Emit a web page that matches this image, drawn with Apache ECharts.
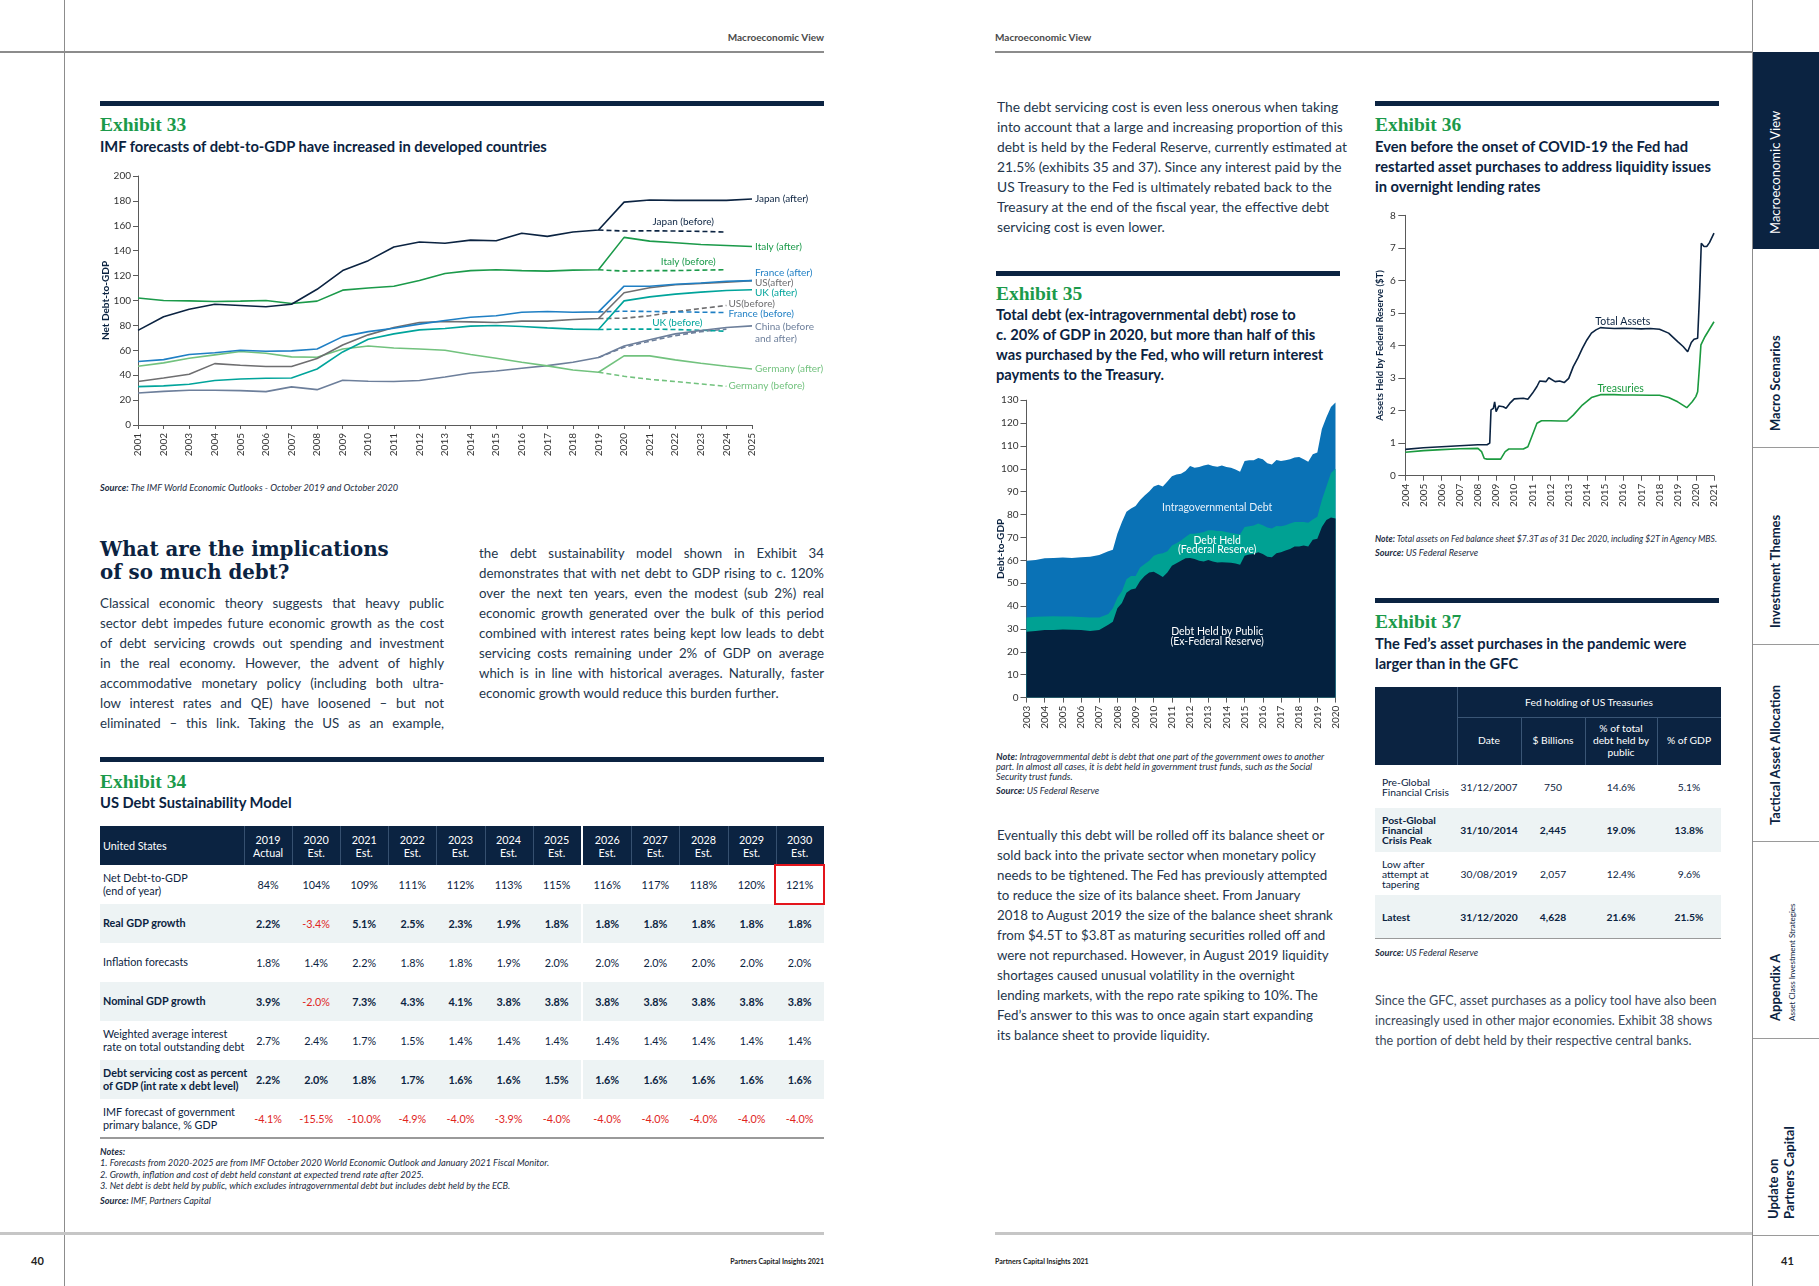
<!DOCTYPE html>
<html>
<head>
<meta charset="utf-8">
<title>Macroeconomic View</title>
<script src="https://cdn.jsdelivr.net/npm/echarts@6.0.0/dist/echarts.min.js"></script>
<style>
html,body{margin:0;padding:0}
body{width:1819px;height:1286px;position:relative;overflow:hidden;background:#fff;font-family:Lato,"Noto Sans",sans-serif;color:#1c2c42}
.a{position:absolute;white-space:nowrap}
.exh{font-family:"Liberation Serif",serif;font-weight:700;color:#1b9a4a;font-size:19.5px;line-height:22px}
.ttl{font-weight:700;color:#0b2341;font-size:14.7px;line-height:20px}
.body{font-size:13.3px;line-height:20px;color:#24364c}
.just{text-align:justify;text-align-last:justify}
.note{font-style:italic;font-size:9.2px;line-height:11px;color:#1c2c42}
.note b{font-weight:700}
.cell{position:absolute;display:flex;align-items:center;justify-content:center;text-align:center;white-space:nowrap}
.lcell{position:absolute;display:flex;align-items:center;white-space:nowrap}
.head{font-family:"DejaVu Serif",serif;font-weight:700;font-size:19.8px;line-height:23px;color:#0b2341}
</style>
</head>
<body>
<div id="page"></div>
<div id="c33" style="position:absolute;left:95px;top:160px;width:740px;height:310px"></div>
<div id="c35" style="position:absolute;left:985px;top:385px;width:360px;height:345px"></div>
<div id="c36" style="position:absolute;left:1365px;top:200px;width:360px;height:320px"></div>
<script>
// ---------------- Exhibit 33 data ----------------
const years33 = ['2001','2002','2003','2004','2005','2006','2007','2008','2009','2010','2011','2012','2013','2014','2015','2016','2017','2018','2019','2020','2021','2022','2023','2024','2025'];
const beforeYears33 = ['2019','2020','2021','2022','2023','2024'];
const japanAfter   = [76,87,93,97,96,95,97,109,124,132,143,147,146,148.5,148,154,151.5,155,156.6,179,180.7,180.4,180.4,180.4,181.5];
const italyAfter   = [102,100,99.7,99.2,99.5,100,97.6,99.5,108.3,110,111.5,116,121.7,124,124.7,124,123.6,124.4,124.7,150.7,147.7,146.4,145,144.2,143.4];
const franceAfter  = [51,52.5,56.6,58,60,59.2,59.5,61,71,75,77.7,81,84,86.6,87.7,90.6,91.2,90.6,90.9,111.5,111.5,113,114,115.5,116];
const usAfter      = [35,37.8,40.7,49.3,48,47,47,53.4,64.3,72.4,78.3,82.3,83.1,82.8,82.3,83.4,83.4,84.7,85.5,106.2,110.2,112.6,113.7,114.7,116];
const ukAfter      = [30.8,31.4,32.7,35.7,37,37.5,37.8,45,58.7,68.9,73.2,76.4,77.5,79.4,79.9,79.1,78,77,76.7,99.7,102.9,105.1,106.7,108,108.6];
const chinaAfter   = [25.7,27,27.9,27.9,27.6,26.8,30.6,28.4,35.9,35.1,34.9,35.7,38.6,41.8,43.4,45.6,47.7,50.4,54.2,63.5,68.4,73.2,75.9,78.3,79.6];
const germanyAfter = [47.2,49.9,53.6,56.3,59,57.6,54.7,54.4,61.1,63.5,61.9,61.1,60,56.6,53.6,50.4,47.5,44.2,42.4,55.5,55.5,52.3,49.6,47.2,45];
const japanBefore   = [156.6,155.8,156,155.8,155.5,155];
const italyBefore   = [124.7,123.6,124,124,124.4,124.7];
const franceBefore  = [90.9,91.4,91.2,90.9,90.6,90.3];
const usBefore      = [85.5,85.8,87.7,91,93.6,96];
const ukBefore      = [76.7,77,77,76.7,76.1,75.3];
const chinaBefore   = [54.2,62.5,67.3,71.8,75,77];
const germanyBefore = [42.4,39.1,36.7,34.9,33,31.1];

// ---------------- Exhibit 35 data (Debt-to-GDP, %) ----------------
const t35 = [2003,2003.5,2004,2004.5,2005,2005.5,2006,2006.5,2007,2007.5,2007.75,
  2008,2008.25,2008.5,2008.75,2009,2009.25,2009.5,2009.75,2010,2010.25,2010.5,2010.75,
  2011,2011.25,2011.5,2011.75,2012,2012.25,2012.5,2012.75,2013,2013.25,2013.5,2013.75,
  2014,2014.25,2014.5,2014.75,2015,2015.25,2015.5,2015.75,2016,2016.25,2016.5,2016.75,
  2017,2017.25,2017.5,2017.75,2018,2018.25,2018.5,2018.75,2019,2019.25,2019.5,2019.75,2020];
const publicDebt35 = [28.8,29.1,29.5,29.6,29.8,29.7,29.5,29.1,29.5,31.8,33.2,
  39.1,41.4,45.8,47.3,47.7,51.0,53.2,54.7,55.0,53.9,52.7,54.7,
  57.6,58.7,59.8,60.9,61.0,60.6,59.8,59.5,60.1,59.5,59.1,59.2,
  59.1,58.9,58.6,58.1,62.0,62.5,62.8,63.5,62.8,61.6,61.3,63.1,
  63.5,64.3,65.0,66.0,66.0,66.5,66.0,69.0,69.4,74.6,77.6,78.7,78.3];
const fedDebt35 = [6.2,6.2,6.0,6.0,5.7,5.7,5.7,5.9,5.5,4.7,5.9,
  4.5,5.1,5.9,5.9,5.5,5.9,5.2,5.1,7.0,8.9,10.4,9.3,
  8.9,8.8,8.9,9.3,10.6,11.0,12.1,12.9,13.0,13.6,13.7,13.6,
  13.3,13.0,13.0,13.3,12.6,12.4,12.4,12.6,12.5,12.7,12.6,11.9,
  11.4,11.0,11.1,10.8,10.8,10.3,10.4,8.9,9.6,11.8,14.7,19.5,21.7];
const intragovDebt35 = [24.8,24.8,25.4,25.4,25.7,25.6,26.1,26.6,27.3,27.5,25.5,
  28.0,30.3,29.5,29.5,30.6,29.5,29.9,30.3,30.3,30.2,29.2,30.5,
  30.3,30.0,29.1,28.8,29.6,28.9,28.9,29.1,28.8,28.1,28.1,28.7,
  28.4,28.6,28.1,27.3,28.8,28.8,28.5,28.6,28.9,28.1,28.0,28.9,
  28.5,28.4,28.1,28.1,28.4,27.4,26.7,28.5,28.1,31.0,30.3,28.8,29.0];

// ---------------- Exhibit 36 data ($T) ----------------
const t36Total = [2004,2005,2006,2007,2008,2008.5,2008.65,2008.72,2008.85,2008.92,2009,2009.15,2009.4,2009.55,2009.75,
  2010,2010.5,2010.75,2011,2011.25,2011.4,2011.75,2011.9,2012,2012.25,2012.5,2012.75,2013,2013.25,2013.5,2013.75,
  2014,2014.25,2014.5,2014.75,2015,2015.5,2016,2016.5,2017,2017.5,2018,2018.5,2019,2019.3,2019.55,2019.62,2019.75,2019.9,
  2020,2020.1,2020.2,2020.3,2020.45,2020.6,2020.75,2021];
const totalAssets36 = [0.81,0.86,0.89,0.92,0.95,0.95,1.00,2.02,2.07,2.27,1.97,2.14,2.12,2.07,2.22,
  2.36,2.38,2.35,2.53,2.74,2.91,2.89,3.01,2.99,2.89,2.91,2.86,2.99,3.35,3.61,3.91,
  4.17,4.38,4.48,4.55,4.54,4.52,4.53,4.52,4.51,4.52,4.50,4.38,4.12,3.97,3.81,3.86,4.09,4.19,
  4.22,4.22,5.50,7.14,7.04,7.04,7.16,7.45];
const t36Treas = [2004,2005,2006,2007,2008,2008.2,2008.35,2008.5,2009,2009.25,2009.5,2009.7,2010,2010.5,2010.75,
  2011,2011.25,2011.5,2012,2012.5,2012.9,2013.25,2013.75,2014.25,2014.75,2015.5,2016,2016.5,2017.5,2018,2018.5,
  2019,2019.5,2019.6,2019.8,2020,2020.1,2020.2,2020.28,2020.5,2020.75,2021];
const treasuries36 = [0.72,0.77,0.80,0.83,0.84,0.74,0.53,0.51,0.51,0.51,0.74,0.82,0.82,0.82,0.89,
  1.25,1.61,1.69,1.69,1.68,1.68,1.86,2.17,2.40,2.49,2.49,2.48,2.48,2.47,2.47,2.40,
  2.27,2.09,2.12,2.27,2.43,2.58,3.35,4.02,4.27,4.50,4.73];

// ---------------- Exhibit 34 table ----------------
const cols34 = [['2019','Actual'],['2020','Est.'],['2021','Est.'],['2022','Est.'],['2023','Est.'],['2024','Est.'],['2025','Est.'],['2026','Est.'],['2027','Est.'],['2028','Est.'],['2029','Est.'],['2030','Est.']];
const netDebt34   = ['84%','104%','109%','111%','112%','113%','115%','116%','117%','118%','120%','121%'];
const realGdp34   = ['2.2%','-3.4%','5.1%','2.5%','2.3%','1.9%','1.8%','1.8%','1.8%','1.8%','1.8%','1.8%'];
const inflation34 = ['1.8%','1.4%','2.2%','1.8%','1.8%','1.9%','2.0%','2.0%','2.0%','2.0%','2.0%','2.0%'];
const nominal34   = ['3.9%','-2.0%','7.3%','4.3%','4.1%','3.8%','3.8%','3.8%','3.8%','3.8%','3.8%','3.8%'];
const interest34  = ['2.7%','2.4%','1.7%','1.5%','1.4%','1.4%','1.4%','1.4%','1.4%','1.4%','1.4%','1.4%'];
const servicing34 = ['2.2%','2.0%','1.8%','1.7%','1.6%','1.6%','1.5%','1.6%','1.6%','1.6%','1.6%','1.6%'];
const primary34   = ['-4.1%','-15.5%','-10.0%','-4.9%','-4.0%','-3.9%','-4.0%','-4.0%','-4.0%','-4.0%','-4.0%','-4.0%'];
const rowLabels34 = ['Net Debt-to-GDP<br>(end of year)','Real GDP growth','Inflation forecasts','Nominal GDP growth','Weighted average interest<br>rate on total outstanding debt','Debt servicing cost as percent<br>of GDP (int rate x debt level)','IMF forecast of government<br>primary balance, % GDP'];

// ---------------- Exhibit 37 table ----------------
const rowLabels37 = ['Pre-Global<br>Financial Crisis','Post-Global<br>Financial<br>Crisis Peak','Low after<br>attempt at<br>tapering','Latest'];
const dates37    = ['31/12/2007','31/10/2014','30/08/2019','31/12/2020'];
const billions37 = ['750','2,445','2,057','4,628'];
const pctDebt37  = ['14.6%','19.0%','12.4%','21.6%'];
const pctGdp37   = ['5.1%','13.8%','9.6%','21.5%'];

// ================= page furniture =================
const NAVY = '#0b2341', GREEN = '#1b9a4a', SHADE = '#edf3f4';
const H = [];
function box(x,y,w,h,bg,extra){ H.push(`<div style="position:absolute;left:${x}px;top:${y}px;width:${w}px;height:${h}px;background:${bg};${extra||''}"></div>`); }
function txt(x,y,html,cls,style){ H.push(`<div class="a ${cls||''}" style="left:${x}px;top:${y}px;${style||''}">${html}</div>`); }
function lines(x,y,arr,cls,style){ arr.forEach((l,i)=>txt(x,y+i*20,l,cls,style)); }
function rot(x,yb,html,style){ H.push(`<div class="a" style="left:${x}px;top:${yb}px;transform:rotate(-90deg);transform-origin:0 0;${style||''}">${html}</div>`); }

// frame lines
box(0,51,824,1.5,'#8c8c8c'); box(995,51,758,1.5,'#8c8c8c');
box(63.5,0,1,1286,'#8c8c8c'); box(1752,0,1,1286,'#8c8c8c');
box(0,1232,824,3,'#c6c6c6'); box(995,1232,757,3,'#c6c6c6');
// running headers / footers
txt(0,31,'Macroeconomic View','', 'width:824px;text-align:right;font-weight:700;font-size:10px;line-height:12px;color:#4a4a4a');
txt(995,31,'Macroeconomic View','', 'font-weight:700;font-size:10px;line-height:12px;color:#4a4a4a');
txt(0,1256,'Partners Capital Insights 2021','', 'width:824px;text-align:right;font-weight:700;font-size:7px;line-height:10px;color:#222');
txt(995,1256,'Partners Capital Insights 2021','', 'font-weight:700;font-size:7px;line-height:10px;color:#222');
txt(31,1254,'40','', 'font-weight:700;font-size:11px;line-height:14px;color:#222');
txt(1781,1254,'41','', 'font-weight:700;font-size:11px;line-height:14px;color:#222');

// sidebar
box(1753,52,66,197,NAVY);
[446.5,644,841,1038,1235].forEach(y=>box(1753,y,66,1,'#9a9a9a'));
const sideStyle = 'font-size:13px;line-height:16px;font-weight:700;color:'+NAVY;
rot(1767,234,'Macroeconomic View','font-size:13px;line-height:16px;font-weight:400;color:#fff');
rot(1767,431,'Macro Scenarios',sideStyle);
rot(1767,628,'Investment Themes',sideStyle);
rot(1767,825,'Tactical Asset Allocation',sideStyle);
rot(1767,1021,'Appendix A',sideStyle);
rot(1786,1021,'Asset Class Investment Strategies','font-size:8px;line-height:12px;color:'+NAVY);
rot(1765,1219,'Update on<br>Partners Capital',sideStyle);

// ---------- Exhibit 33 header ----------
box(100,101,724,5,NAVY);
txt(100,114,'Exhibit 33','exh');
txt(100,136,'IMF forecasts of debt-to-GDP have increased in developed countries','ttl');
txt(100,482,'<b>Source:</b> The IMF World Economic Outlooks - October 2019 and October 2020','note');

// ---------- Left page text ----------
txt(100,538,'What are the implications','head');
txt(100,561,'of so much debt?','head');
lines(100,593.3,['Classical economic theory suggests that heavy public','sector debt impedes future economic growth as the cost','of debt servicing crowds out spending and investment','in the real economy. However, the advent of highly','accommodative monetary policy (including both ultra-','low interest rates and QE) have loosened \u2013 but not','eliminated \u2013 this link. Taking the US as an example,'],'body just','width:344px');
lines(479,543.3,['the debt sustainability model shown in Exhibit 34','demonstrates that with net debt to GDP rising to c. 120%','over the next ten years, even the modest (sub 2%) real','economic growth generated over the bulk of this period','combined with interest rates being kept low leads to debt','servicing costs remaining under 2% of GDP on average','which is in line with historical averages. Naturally, faster'],'body just','width:345px');
txt(479,543.3+7*20,'economic growth would reduce this burden further.','body');

// ---------- Exhibit 34 ----------
box(100,757,724,4.5,NAVY);
txt(100,770.7,'Exhibit 34','exh');
txt(100,791.7,'US Debt Sustainability Model','ttl');
(function(){
  const L=100, TOP=826, LW=144, CW=48.1, GAP=2.5, HH=39, RH=39, FS=10.8;
  const cx = i => L+LW+i*CW+(i>=7?GAP:0);
  const endA = cx(6)+CW, startB = cx(7), R = cx(11)+CW;
  box(L,TOP,endA-L,HH,NAVY); box(startB,TOP,R-startB,HH,NAVY);
  for(let i=0;i<12;i++){ if(i!==7) box(cx(i),TOP,1,HH,'#36506f'); }
  H.push(`<div class="lcell" style="left:${L+3}px;top:${TOP}px;width:${LW}px;height:${HH}px;color:#fff;font-size:${FS}px">United States</div>`);
  cols34.forEach((c,i)=>H.push(`<div class="cell" style="left:${cx(i)}px;top:${TOP}px;width:${CW}px;height:${HH}px;color:#fff;font-size:${FS}px;line-height:13px">${c[0]}<br>${c[1]}</div>`));
  const rows=[netDebt34,realGdp34,inflation34,nominal34,interest34,servicing34,primary34];
  const bold=[false,true,false,true,false,true,false];
  rows.forEach((vals,r)=>{
    const y=TOP+HH+r*RH;
    if(r%2===1){ box(L,y,endA-L,RH,SHADE); box(startB,y,R-startB,RH,SHADE); }
    const fw = bold[r]?700:400;
    H.push(`<div class="lcell" style="left:${L+3}px;top:${y}px;width:${LW}px;height:${RH}px;color:${NAVY};font-size:${FS}px;line-height:12.5px;font-weight:${fw}">${rowLabels34[r]}</div>`);
    vals.forEach((v,i)=>{
      const neg = v.charAt(0)==='-';
      H.push(`<div class="cell" style="left:${cx(i)}px;top:${y}px;width:${CW}px;height:${RH}px;font-size:${FS}px;font-weight:${neg?400:fw};color:${neg?'#e0261e':NAVY}">${v}</div>`);
    });
  });
  box(L,TOP+HH+7*RH-1,R-L,1.5,'#9a9a9a');
  H.push(`<div style="position:absolute;left:${cx(11)-1.5}px;top:${TOP+HH-1.5}px;width:${CW+3}px;height:${RH+2}px;border:2.5px solid #e3151c;box-sizing:border-box"></div>`);
})();
txt(100,1146,'<b>Notes:</b>','note');
txt(100,1157,'1. Forecasts from 2020-2025 are from IMF October 2020 World Economic Outlook and January 2021 Fiscal Monitor.','note');
txt(100,1168.5,'2. Growth, inflation and cost of debt held constant at expected trend rate after 2025.','note');
txt(100,1180.3,'3. Net debt is debt held by public, which excludes intragovernmental debt but includes debt held by the ECB.','note');
txt(100,1194.5,'<b>Source:</b> IMF, Partners Capital','note');

// ---------- Right page text ----------
lines(997,96.7,['The debt servicing cost is even less onerous when taking','into account that a large and increasing proportion of this','debt is held by the Federal Reserve, currently estimated at','21.5% (exhibits 35 and 37). Since any interest paid by the','US Treasury to the Fed is ultimately rebated back to the','Treasury at the end of the fiscal year, the effective debt','servicing cost is even lower.'],'body','font-size:13.8px');
lines(997,825,['Eventually this debt will be rolled off its balance sheet or','sold back into the private sector when monetary policy','needs to be tightened. The Fed has previously attempted','to reduce the size of its balance sheet. From January','2018 to August 2019 the size of the balance sheet shrank','from $4.5T to $3.8T as maturing securities rolled off and','were not repurchased. However, in August 2019 liquidity','shortages caused unusual volatility in the overnight','lending markets, with the repo rate spiking to 10%. The','Fed\u2019s answer to this was to once again start expanding','its balance sheet to provide liquidity.'],'body');

// ---------- Exhibit 35 header ----------
box(996,271,344,4.5,NAVY);
txt(996,283.3,'Exhibit 35','exh');
H.push(`<div class="a ttl" style="left:996px;top:305px;line-height:19.9px">Total debt (ex-intragovernmental debt) rose to<br>c. 20% of GDP in 2020, but more than half of this<br>was purchased by the Fed, who will return interest<br>payments to the Treasury.</div>`);
txt(996,751.8,'<b>Note:</b> Intragovernmental debt is debt that one part of the government owes to another<br>part. In almost all cases, it is debt held in government trust funds, such as the Social<br>Security trust funds.','note','line-height:10.1px');
txt(996,785,'<b>Source:</b> US Federal Reserve','note');

// ---------- Exhibit 36 header ----------
box(1375,101,344,5,NAVY);
txt(1375,114,'Exhibit 36','exh');
H.push(`<div class="a ttl" style="left:1375px;top:135.7px">Even before the onset of COVID-19 the Fed had<br>restarted asset purchases to address liquidity issues<br>in overnight lending rates</div>`);
txt(1375,533.5,'<b>Note:</b> Total assets on Fed balance sheet $7.3T as of 31 Dec 2020, including $2T in Agency MBS.','note','font-size:8.6px');
txt(1375,547.2,'<b>Source:</b> US Federal Reserve','note');

// ---------- Exhibit 37 ----------
box(1375,598,344,5,NAVY);
txt(1375,611,'Exhibit 37','exh');
H.push(`<div class="a ttl" style="left:1375px;top:632.7px">The Fed\u2019s asset purchases in the pandemic were<br>larger than in the GFC</div>`);
(function(){
  const X=[1375,1457,1521,1585,1657,1721], Y=[687,717,765,808,852,895,938];
  box(X[0],Y[0],X[5]-X[0],Y[2]-Y[0],NAVY);
  box(X[1],Y[0],1,Y[2]-Y[0],'#3a5575');
  [2,3,4].forEach(i=>box(X[i],Y[1],1,Y[2]-Y[1],'#3a5575'));
  box(X[1],Y[1],X[5]-X[1],1,'#3a5575');
  H.push(`<div class="cell" style="left:${X[1]}px;top:${Y[0]}px;width:${X[5]-X[1]}px;height:${Y[1]-Y[0]}px;color:#fff;font-size:10.3px">Fed holding of US Treasuries</div>`);
  const hd=['Date','$ Billions','% of total<br>debt held by<br>public','% of GDP'];
  hd.forEach((h,i)=>H.push(`<div class="cell" style="left:${X[i+1]}px;top:${Y[1]}px;width:${X[i+2]-X[i+1]}px;height:${Y[2]-Y[1]}px;color:#fff;font-size:10.3px;line-height:11.7px">${h}</div>`));
  const cols=[dates37,billions37,pctDebt37,pctGdp37];
  rowLabels37.forEach((lab,r)=>{
    const y=Y[r+2], h=Y[r+3]-Y[r+2], b=(r%2===1);
    if(b) box(X[0],y,X[5]-X[0],h,SHADE);
    const fw=b?700:400;
    H.push(`<div class="lcell" style="left:${X[0]+7}px;top:${y}px;width:${X[1]-X[0]-7}px;height:${h}px;font-size:10.3px;line-height:10px;font-weight:${fw};color:${NAVY}">${lab}</div>`);
    cols.forEach((c,i)=>H.push(`<div class="cell" style="left:${X[i+1]}px;top:${y}px;width:${X[i+2]-X[i+1]}px;height:${h}px;font-size:10.3px;font-weight:${fw};color:${NAVY}">${c[r]}</div>`));
  });
  box(X[0],Y[6]-0.5,X[5]-X[0],1.5,'#9a9a9a');
})();
txt(1375,946.5,'<b>Source:</b> US Federal Reserve','note');
lines(1375,990.7,['Since the GFC, asset purchases as a policy tool have also been','increasingly used in other major economies. Exhibit 38 shows','the portion of debt held by their respective central banks.'],'body','font-size:12.6px;color:#3a495b');

document.getElementById('page').innerHTML = H.join('');

// ================= charts =================
const FONT = 'Lato';
function axisBase(){ return {axisLine:{show:true,lineStyle:{color:'#5a5a5a',width:1}},axisTick:{show:true,length:5,lineStyle:{color:'#5a5a5a'}},axisLabel:{fontSize:10,color:'#333',fontFamily:FONT},splitLine:{show:false},nameMoveOverlap:false}; }
function addLabels(chart, items){
  chart.setOption({graphic: items.map(it=>{
    const p = chart.convertToPixel({gridIndex:0},[it.x,it.y]);
    return {type:'text', silent:true, z:100, zlevel:0, x:p[0]+(it.dx||0), y:p[1]+(it.dy||0),
      style:{text:it.text, fill:it.color, fontSize:it.size||10, fontFamily:FONT, fontWeight:it.weight||'normal',
        textAlign:it.align||'left', align:it.align||'left', textVerticalAlign:'middle', verticalAlign:'middle', lineHeight:it.lh||12}};
  })});
}

// ---- Exhibit 33 ----
const C = {japan:'#0b2341', italy:'#1b9a4a', france:'#1f7fc4', us:'#6e6e70', uk:'#00a49b', china:'#6d7f9b', germany:'#72c27e'};
function ln(name,data,color,dashed){ return {name,type:'line',data,symbol:'none',silent:true,connectNulls:false,
  lineStyle:{color,width:1.6,type:dashed?[5,3]:'solid'},itemStyle:{color},z:dashed?2:3}; }
const bf = arr => arr.map((v,i)=>[beforeYears33[i],v]);
const c33 = echarts.init(document.getElementById('c33'));
const ax33x = axisBase(), ax33y = axisBase();
Object.assign(ax33x,{type:'category',data:years33,boundaryGap:false});
ax33x.axisTick.length=4; ax33x.axisTick.alignWithLabel=true;
ax33x.axisLabel=Object.assign(ax33x.axisLabel,{rotate:90,margin:8,interval:0});
Object.assign(ax33y,{type:'value',min:0,max:200,interval:20,name:'Net Debt-to-GDP',nameLocation:'middle',nameGap:27,nameRotate:90,
  nameTextStyle:{fontSize:10,fontWeight:'bold',color:NAVY,fontFamily:FONT}});
ax33y.axisLabel.margin=7;
c33.setOption({animation:false,textStyle:{fontFamily:FONT},
  grid:{left:43,right:83,top:16,bottom:45,containLabel:false,outerBoundsMode:'none'},
  xAxis:ax33x, yAxis:ax33y,
  series:[
    ln('China (before)',bf(chinaBefore),C.china,true),
    ln('Germany (before)',bf(germanyBefore),C.germany,true),
    ln('UK (before)',bf(ukBefore),C.uk,true),
    ln('US (before)',bf(usBefore),C.us,true),
    ln('France (before)',bf(franceBefore),C.france,true),
    ln('Italy (before)',bf(italyBefore),C.italy,true),
    ln('Japan (before)',bf(japanBefore),C.japan,true),
    ln('China',chinaAfter,C.china,false),
    ln('Germany (after)',germanyAfter,C.germany,false),
    ln('UK (after)',ukAfter,C.uk,false),
    ln('US (after)',usAfter,C.us,false),
    ln('France (after)',franceAfter,C.france,false),
    ln('Italy (after)',italyAfter,C.italy,false),
    ln('Japan (after)',japanAfter,C.japan,false)
  ]});
addLabels(c33,[
  {x:24,y:japanAfter[24],text:'Japan (after)',color:C.japan,dx:3},
  {x:24,y:italyAfter[24],text:'Italy (after)',color:C.italy,dx:3},
  {x:24,y:franceAfter[24],text:'France (after)',color:C.france,dx:3,dy:-8},
  {x:24,y:usAfter[24],text:'US(after)',color:C.us,dx:3,dy:2},
  {x:24,y:ukAfter[24],text:'UK (after)',color:C.uk,dx:3,dy:2.5},
  {x:24,y:chinaAfter[24],text:'China (before\nand after)',color:C.china,dx:3,dy:6.5},
  {x:24,y:germanyAfter[24],text:'Germany (after)',color:C.germany,dx:3},
  {x:23,y:usBefore[5],text:'US(before)',color:C.us,dx:2,dy:-1.5},
  {x:23,y:franceBefore[5],text:'France (before)',color:C.france,dx:2,dy:1},
  {x:23,y:germanyBefore[5],text:'Germany (before)',color:C.germany,dx:2},
  {x:21,y:japanBefore[3],text:'Japan (before)',color:C.japan,dx:8,dy:-9,align:'center'},
  {x:21,y:italyBefore[3],text:'Italy (before)',color:C.italy,dx:13,dy:-9,align:'center'},
  {x:21,y:ukBefore[3],text:'UK (before)',color:C.uk,dx:2,dy:-6.5,align:'center'}
]);

// ---- Exhibit 35 (layers drawn as cumulative areas, largest first) ----
const c35 = echarts.init(document.getElementById('c35'));
const ax35x = axisBase(), ax35y = axisBase();
Object.assign(ax35x,{type:'value',min:2003,max:2020,interval:1});
ax35x.axisLabel=Object.assign(ax35x.axisLabel,{rotate:90,margin:8,formatter:v=>String(v)});
Object.assign(ax35y,{type:'value',min:0,max:130,interval:10,name:'Debt-to-GDP',nameLocation:'middle',nameGap:21,nameRotate:90,
  nameTextStyle:{fontSize:10,fontWeight:'bold',color:NAVY,fontFamily:FONT}});
ax35y.axisTick.length=6; ax35y.axisLabel.margin=8;
const cumPublic = publicDebt35.map((v,i)=>[t35[i], v]);
const cumFed    = publicDebt35.map((v,i)=>[t35[i], +(v+fedDebt35[i]).toFixed(2)]);
const cumTotal  = publicDebt35.map((v,i)=>[t35[i], +(v+fedDebt35[i]+intragovDebt35[i]).toFixed(2)]);
const ar = (name,data,color,z)=>({name,type:'line',symbol:'none',silent:true,data,z,
  lineStyle:{width:0,color},itemStyle:{color},areaStyle:{color,opacity:1,origin:'start'}});
c35.setOption({animation:false,textStyle:{fontFamily:FONT},
  grid:{left:41.5,right:9.5,top:15.2,bottom:32.4,containLabel:false,outerBoundsMode:'none'},
  xAxis:ax35x,yAxis:ax35y,
  series:[ar('Intragovernmental Debt',cumTotal,'#0a72b6',1),
          ar('Debt Held (Federal Reserve)',cumFed,'#00a193',2),
          ar('Debt Held by Public (Ex-Federal Reserve)',cumPublic,'#04213f',3)]});
addLabels(c35,[
  {x:2013.49,y:83.0,text:'Intragovernmental Debt',color:'#e8f1fa',align:'center',size:10.5},
  {x:2013.49,y:66.7,text:'Debt Held\n(Federal Reserve)',color:'#ffffff',align:'center',size:10.5,lh:9.5},
  {x:2013.49,y:26.6,text:'Debt Held by Public\n(Ex-Federal Reserve)',color:'#ffffff',align:'center',size:10.5,lh:10}
]);

// ---- Exhibit 36 ----
const c36 = echarts.init(document.getElementById('c36'));
const ax36x = axisBase(), ax36y = axisBase();
Object.assign(ax36x,{type:'value',min:2004,max:2021,interval:1});
ax36x.axisLabel=Object.assign(ax36x.axisLabel,{rotate:90,margin:8,formatter:v=>String(v)});
Object.assign(ax36y,{type:'value',min:0,max:8,interval:1,name:'Assets Held by Federal Reserve ($T)',nameLocation:'middle',nameGap:20,nameRotate:90,
  nameTextStyle:{fontSize:9.5,fontWeight:'bold',color:NAVY,fontFamily:FONT}});
ax36y.axisTick.length=7; ax36y.axisLabel.margin=9.5;
c36.setOption({animation:false,textStyle:{fontFamily:FONT},
  grid:{left:40.3,right:11,top:15.3,bottom:44.3,containLabel:false,outerBoundsMode:'none'},
  xAxis:ax36x,yAxis:ax36y,
  series:[
    {name:'Treasuries',type:'line',symbol:'none',silent:true,data:treasuries36.map((v,i)=>[t36Treas[i],v]),lineStyle:{color:'#1b9a3f',width:1.6},itemStyle:{color:'#1b9a3f'}},
    {name:'Total Assets',type:'line',symbol:'none',silent:true,data:totalAssets36.map((v,i)=>[t36Total[i],v]),lineStyle:{color:'#0b2341',width:1.6},itemStyle:{color:'#0b2341'}}
  ]});
addLabels(c36,[
  {x:2015.98,y:4.53,text:'Total Assets',color:'#0b2341',align:'center',dy:-6.5,size:10.5},
  {x:2015.86,y:2.48,text:'Treasuries',color:'#1b9a3f',align:'center',dy:-6.3,size:10.5}
]);
</script>
</body>
</html>
